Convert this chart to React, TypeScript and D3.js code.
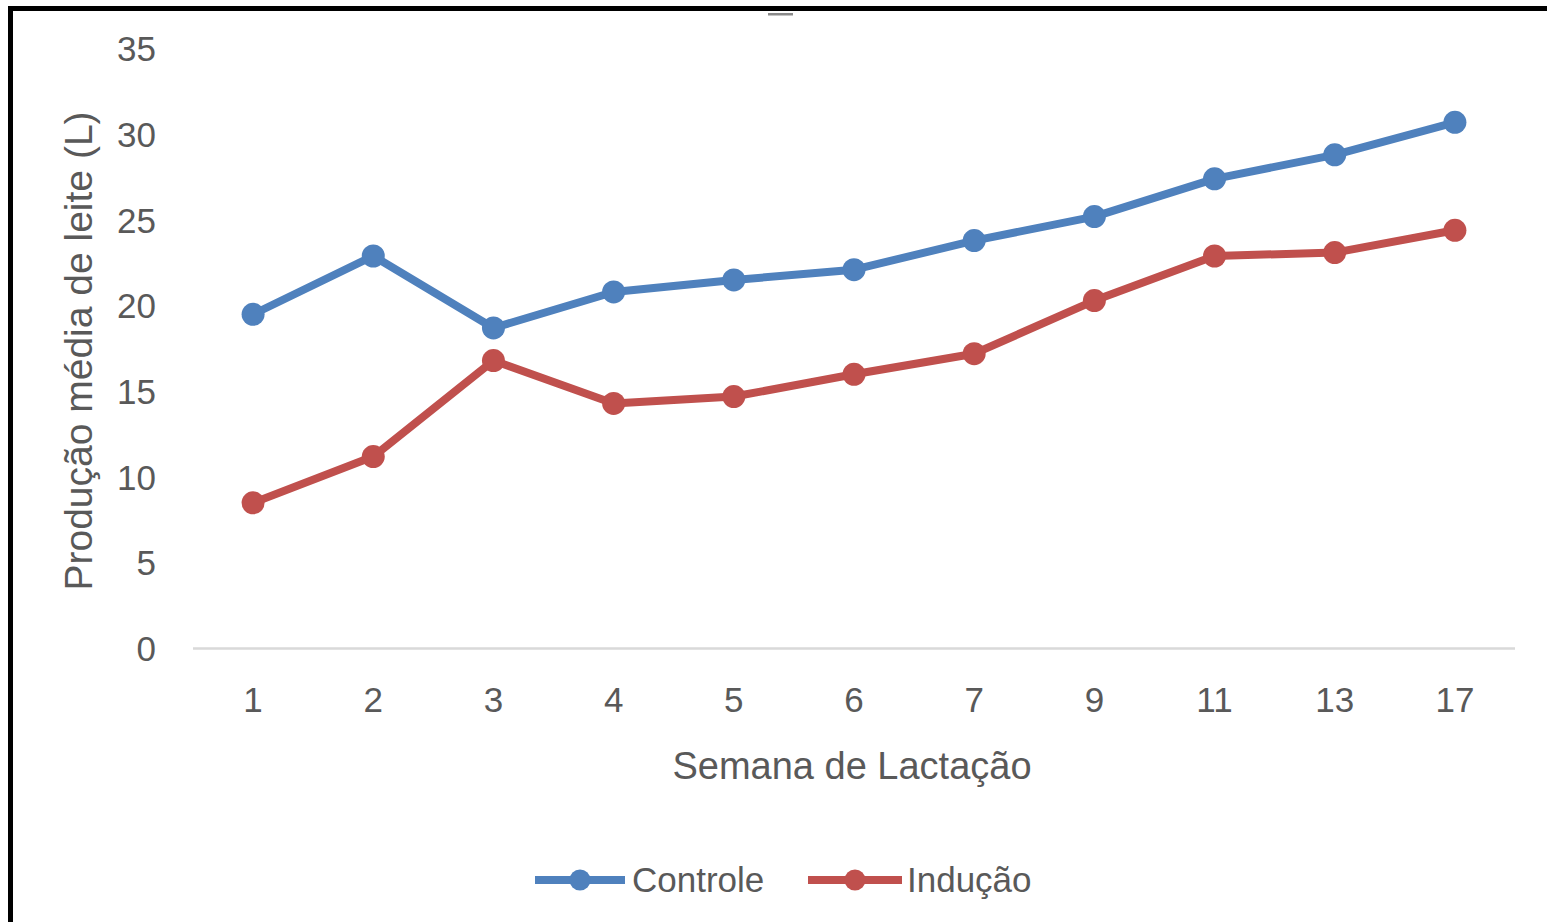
import React from "react";
import * as d3 from "d3";

const categories = ["1", "2", "3", "4", "5", "6", "7", "9", "11", "13", "17"];
const controle = [19.5, 22.9, 18.7, 20.8, 21.5, 22.1, 23.8, 25.2, 27.4, 28.8, 30.7];
const inducao = [8.5, 11.2, 16.8, 14.3, 14.7, 16.0, 17.2, 20.3, 22.9, 23.1, 24.4];
const yTicks = [0, 5, 10, 15, 20, 25, 30, 35];
const seriesNames = ["Controle", "Indução"];
const seriesColors = ["#4F81BD", "#C0504D"];

const W = 1547;
const H = 922;
const FONT = "'Liberation Sans', Arial, sans-serif";
const TEXT = "#595959";

export default function App() {
  const x = d3.scaleBand<string>().domain(categories).range([193, 1515]).padding(0);
  const y = d3.scaleLinear().domain([0, 35]).range([648.5, 48.6]);
  const cx = (c: string) => (x(c) as number) + x.bandwidth() / 2;
  const line = d3
    .line<number>()
    .x((_, i) => cx(categories[i]))
    .y((v) => y(v));
  const series = [controle, inducao];
  const legend = [
    { x1: 535, x2: 625, tx: 632 },
    { x1: 808, x2: 902, tx: 907 },
  ];

  return (
    <svg
      width={W}
      height={H}
      style={{ position: "absolute", left: 0, top: 0, background: "#fff" }}
    >
      <rect x={0} y={0} width={W} height={H} fill="#fff" />
      {/* frame */}
      <line x1={8} x2={W} y1={8.5} y2={8.5} stroke="#000" strokeWidth={5} />
      <line x1={10.5} x2={10.5} y1={6} y2={H} stroke="#000" strokeWidth={5} />
      <rect x={768} y={13} width={25} height={2.5} fill="#8a8a8a" />

      {/* y tick labels */}
      {yTicks.map((t) => (
        <text
          key={t}
          x={156}
          y={y(t)}
          textAnchor="end"
          dominantBaseline="central"
          fontFamily={FONT}
          fontSize={35}
          fill={TEXT}
        >
          {t}
        </text>
      ))}

      {/* baseline */}
      <line x1={193} x2={1515} y1={y(0)} y2={y(0)} stroke="#D9D9D9" strokeWidth={2.5} />

      {/* x tick labels */}
      {categories.map((c) => (
        <text
          key={c}
          x={cx(c)}
          y={712}
          textAnchor="middle"
          fontFamily={FONT}
          fontSize={35}
          fill={TEXT}
        >
          {c}
        </text>
      ))}

      {/* axis titles */}
      <text x={852} y={779} textAnchor="middle" fontFamily={FONT} fontSize={38} fill={TEXT}>
        Semana de Lactação
      </text>
      <text
        transform="translate(92,351) rotate(-90)"
        textAnchor="middle"
        fontFamily={FONT}
        fontSize={39}
        fill={TEXT}
      >
        Produção média de leite (L)
      </text>

      {/* series */}
      {series.map((vals, si) => (
        <g key={si}>
          <path
            d={line(vals) as string}
            fill="none"
            stroke={seriesColors[si]}
            strokeWidth={8}
            strokeLinejoin="round"
            strokeLinecap="round"
          />
          {vals.map((v, i) => (
            <circle key={i} cx={cx(categories[i])} cy={y(v)} r={11.5} fill={seriesColors[si]} />
          ))}
        </g>
      ))}

      {/* legend */}
      {legend.map((l, i) => (
        <g key={i}>
          <line x1={l.x1} x2={l.x2} y1={880} y2={880} stroke={seriesColors[i]} strokeWidth={8} />
          <circle cx={(l.x1 + l.x2) / 2} cy={880} r={10.5} fill={seriesColors[i]} />
          <text x={l.tx} y={892} fontFamily={FONT} fontSize={35} fill={TEXT}>
            {seriesNames[i]}
          </text>
        </g>
      ))}
    </svg>
  );
}
